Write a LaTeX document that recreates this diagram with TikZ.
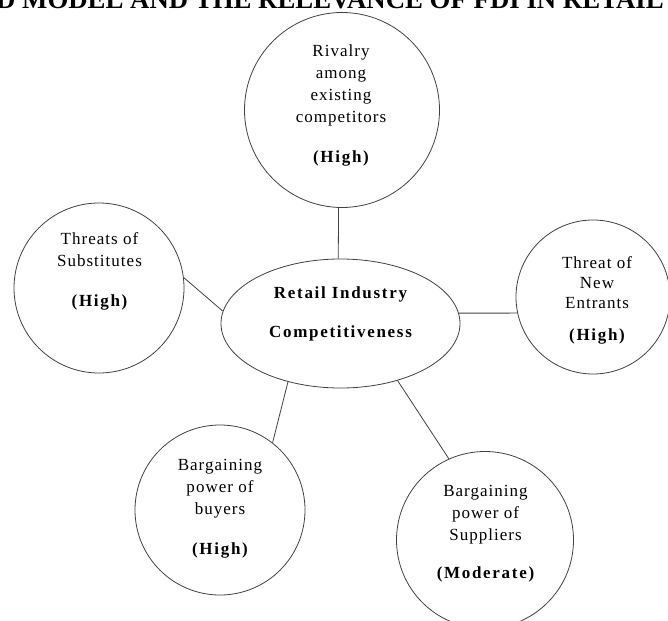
\documentclass[tikz,border=0pt]{standalone}
\usepackage{fontspec}
\setmainfont{Liberation Serif}[LetterSpace=6]
\newfontfamily\titlefont{Liberation Serif}
\newfontfamily\boldfam{Liberation Serif}[LetterSpace=10]
\usetikzlibrary{shapes.geometric}
\newcommand\hlev[1]{{\boldfam\fontsize{17}{22}\selectfont\bfseries #1}}
\begin{document}
\begin{tikzpicture}[x=1pt,y=-1pt,
  conn/.style={draw=black!75, line width=0.8pt},
  force/.style={circle, draw=black!75, line width=0.8pt, inner sep=0pt},
  lbl/.style={anchor=base, inner sep=0pt, font=\fontsize{17}{22}\selectfont},
]
\useasboundingbox (0,0) rectangle (668,620);
\clip (0,0) rectangle (668,620);

\node[anchor=base east, inner sep=0pt, font=\titlefont\bfseries\fontsize{26.8}{27}\selectfont] (title) at (664,8.5) {D MODEL AND THE RELEVANCE OF FDI IN RETAIL};

\node[force, minimum size=195pt] (rival) at (342,110) {};
\node[force, minimum size=170pt] (subst) at (99,288) {};
\node[force, minimum size=154pt] (entr) at (593,297) {};
\node[force, minimum size=170pt] (buyer) at (220,510) {};
\node[force, minimum size=177pt] (suppl) at (485,540) {};
\node[ellipse, draw=black!75, line width=0.8pt, minimum width=239pt, minimum height=129pt, inner sep=0pt] (core) at (340.5,323.5) {};

\node[lbl] (rivalT) at (341,57) {\begin{tabular}[t]{@{}c@{}}Rivalry\\among\\existing\\competitors\\[18pt]\hlev{(High)}\end{tabular}};
\node[lbl] (substT) at (99.5,244) {\begin{tabular}[t]{@{}c@{}}Threats of\\Substitutes\\[18pt]\hlev{(High)}\end{tabular}};
\node[lbl] (entrT) at (597,268) {\begin{tabular}[t]{@{}c@{}}Threat of\\[-2pt]New\\[-2pt]Entrants\\[10pt]\hlev{(High)}\end{tabular}};
\node[lbl] (buyerT) at (220,470) {\begin{tabular}[t]{@{}c@{}}Bargaining\\power of\\buyers\\[18pt]\hlev{(High)}\end{tabular}};
\node[lbl] (supplT) at (485.5,496) {\begin{tabular}[t]{@{}c@{}}Bargaining\\power of\\Suppliers\\[16pt]\hlev{(Moderate)}\end{tabular}};
\node[lbl] (coreT) at (340.5,298) {\begin{tabular}[t]{@{}c@{}}\hlev{Retail Industry}\\[17pt]\hlev{Competitiveness}\end{tabular}};

\draw[conn] (rival.-92.3) -- (core.92.2);
\draw[conn] (subst.7) -- (core.174.4);
\draw[conn] (core.5) -- (entr.192);
\draw[conn] (core.-132.9) -- (buyer.52.7);
\draw[conn] (core.-45.5) -- (suppl.114.5);
\end{tikzpicture}
\end{document}
